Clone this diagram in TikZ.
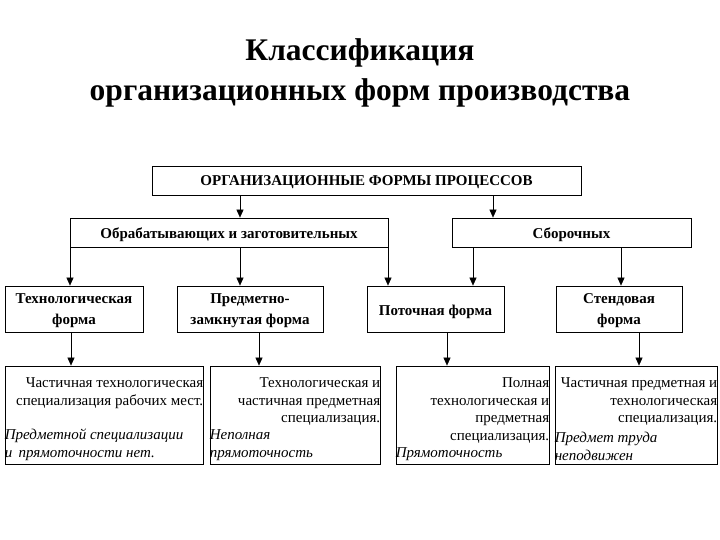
\documentclass[tikz,border=0pt]{standalone}
\usepackage{fontspec}
\setmainfont{Liberation Serif}
\usetikzlibrary{arrows.meta}
\begin{document}
\begin{tikzpicture}[x=1pt,y=-1pt,
  box/.style={draw,line width=0.8pt,inner sep=0pt},
  lbl/.style={inner sep=0pt,font=\bfseries\fontsize{15}{21}\selectfont,align=center},
  rtext/.style={anchor=north east,align=right,inner sep=0pt,font=\fontsize{15}{17.5}\selectfont},
  itext/.style={anchor=south west,align=left,inner sep=0pt,font=\itshape\fontsize{15}{17.5}\selectfont},
  arr/.style={line width=0.6pt,-{Triangle[length=8pt,width=7pt]}}]
\useasboundingbox (0,0) rectangle (720,540);
\node[font=\bfseries\fontsize{31.5}{40}\selectfont,align=center] (title) at (360,73)
  {Классификация\\организационных форм производства};
\node[box,minimum width=429,minimum height=29] (top) at (366.5,180.5) {};
\node[box,minimum width=318,minimum height=29] (obr) at (229,232.5) {};
\node[box,minimum width=239,minimum height=29] (sbor) at (571.5,232.5) {};
\node[box,minimum width=138,minimum height=46] (tech) at (74,309) {};
\node[box,minimum width=146,minimum height=46] (pred) at (250,309) {};
\node[box,minimum width=137,minimum height=46] (potok) at (435.5,309) {};
\node[box,minimum width=126,minimum height=46] (stend) at (619,309) {};
\node[lbl] (ltop) at ([yshift=-2]top.center) {ОРГАНИЗАЦИОННЫЕ ФОРМЫ ПРОЦЕССОВ};
\node[lbl] (lobr) at ([yshift=-2.5]obr.center) {Обрабатывающих и заготовительных};
\node[lbl] (lsbor) at ([yshift=-2.5]sbor.center) {Сборочных};
\node[lbl] (ltech) at ([yshift=-2]tech.center) {Технологическая\\форма};
\node[lbl] (lpred) at ([yshift=-2]pred.center) {Предметно-\\замкнутая форма};
\node[lbl] (lpotok) at ([yshift=-3]potok.center) {Поточная форма};
\node[lbl] (lstend) at ([yshift=-2]stend.center) {Стендовая\\форма};
\node[box,minimum width=198,minimum height=98] (b1) at (104,415) {};
\node[box,minimum width=170,minimum height=98] (b2) at (295,415) {};
\node[box,minimum width=153,minimum height=98] (b3) at (472.5,415) {};
\node[box,minimum width=162,minimum height=98] (b4) at (636,415) {};
% texts in bottom boxes
\node[rtext] (t1) at ([yshift=-12]b1.north east) {Частичная технологическая\\специализация рабочих мест.};
\node[itext] (i1) at ([yshift=4]b1.south west) {Предметной специализации\\и\, прямоточности нет.};
\node[rtext] (t2) at ([yshift=-12]b2.north east) {Технологическая и\\частичная предметная\\специализация.};
\node[itext] (i2) at ([yshift=4]b2.south west) {Неполная\\прямоточность};
\node[rtext] (t3) at ([yshift=-12]b3.north east) {Полная\\технологическая и\\предметная\\специализация.};
\node[itext] (i3) at ([yshift=4]b3.south west) {Прямоточность};
\node[rtext] (t4) at ([yshift=-12]b4.north east) {Частичная предметная и\\технологическая\\специализация.};
\node[itext] (i4) at ([yshift=4]b4.south west) {Предмет труда\\неподвижен};
% arrow x positions
\coordinate (xa) at (240,0);
\coordinate (xb) at (493,0);
\coordinate (xc) at (70,0);
\coordinate (xd) at (388,0);
\coordinate (xe) at (473,0);
\coordinate (xf) at (621,0);
\coordinate (xg) at (71,0);
\coordinate (xh) at (259,0);
\coordinate (xi) at (447,0);
\coordinate (xj) at (639,0);
\draw[arr] (top.south -| xa) -- (obr.north -| xa);
\draw[arr] (top.south -| xb) -- (sbor.north -| xb);
\draw[arr] (obr.south -| xc) -- (tech.north -| xc);
\draw[arr] (obr.south -| xa) -- (pred.north -| xa);
\draw[arr] (obr.south -| xd) -- (potok.north -| xd);
\draw[arr] (sbor.south -| xe) -- (potok.north -| xe);
\draw[arr] (sbor.south -| xf) -- (stend.north -| xf);
\draw[arr] (tech.south -| xg) -- (b1.north -| xg);
\draw[arr] (pred.south -| xh) -- (b2.north -| xh);
\draw[arr] (potok.south -| xi) -- (b3.north -| xi);
\draw[arr] (stend.south -| xj) -- (b4.north -| xj);
\end{tikzpicture}
\end{document}
